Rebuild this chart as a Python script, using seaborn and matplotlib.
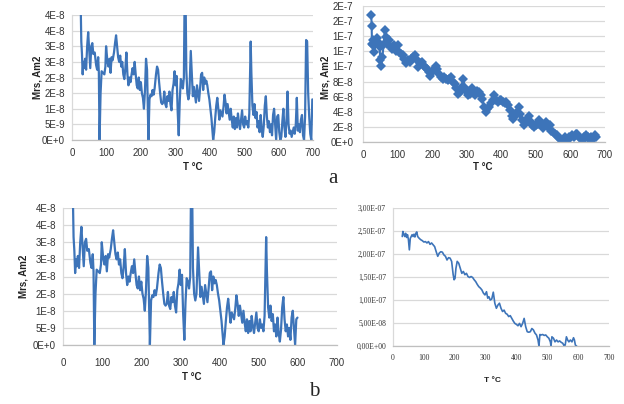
import matplotlib
matplotlib.use("Agg")
import matplotlib.pyplot as plt
import seaborn as sns
import pandas as pd

sns.set_theme(style="white")
plt.rcParams["font.family"] = ["Liberation Sans", "DejaVu Sans"]

BLUE = "#3D74B9"
GRID = "#D9D9D9"
W, H = 624, 404

# --- panel a (left) and b (left): Mrs, units of 5E-9 Am2 ---
t_noisy = [23, 25, 27, 29, 31, 33, 35, 38, 41, 44, 47, 50, 53, 56, 59, 62, 66, 70, 73, 76,
           78, 80, 83, 86, 90, 94, 97, 99, 103, 106, 109, 112, 115, 118, 122, 125, 128, 131, 134, 137,
           140, 143, 146, 149, 152, 155, 158, 161, 164, 167, 170, 173, 176, 179, 182, 185, 188, 191, 194, 197,
           200, 203, 206, 209, 212, 215, 218, 222, 225, 228, 231, 234, 237, 240, 244, 247, 250, 253, 256, 259,
           262, 265, 268, 271, 274, 277, 280, 283, 286, 289, 292, 295, 298, 301, 304, 307, 310, 313, 316, 319,
           322, 325, 327, 330, 332, 335, 338, 341, 345, 348, 351, 354, 357, 360, 363, 366, 369, 372, 375, 378,
           381, 384, 387, 390, 393, 396, 399, 402, 405, 408, 410, 413, 416, 419, 422, 425, 428, 431, 434, 437,
           440, 443, 446, 449, 452, 455, 458, 461, 464, 467, 470, 473, 476, 479, 482, 485, 488, 491, 494, 497,
           500, 503, 506, 509, 512, 515, 517, 519, 521, 524, 527, 530, 533, 536, 539, 542, 545, 548, 551, 554,
           557, 560, 563, 566, 569, 572, 575, 578, 581, 584, 587, 590, 593, 596, 599, 602, 605, 608, 611, 614,
           617, 620, 623, 626, 629, 632, 635, 638, 641, 644, 647, 650, 653, 656, 659, 662, 665, 668, 671, 674,
           677, 680, 683, 686, 689, 692, 695, 698]
mrs_noisy = [9, 9, 6.3, 5.5, 4.2, 5.0, 4.6, 5.2, 4.5, 6.0, 6.9, 5.8, 4.6, 6.0, 6.2, 5.5, 5.6, 4.8, 4.5, 5.3,
             4.3, 0, 3.0, 4.4, 4.3, 4.2, 4.7, 6.0, 5.0, 4.7, 5.2, 4.3, 5.3, 5.1, 5.6, 6.2, 6.7, 6.0, 5.3, 5.0,
             5.4, 4.7, 5.0, 4.2, 3.9, 4.6, 5.6, 4.2, 3.5, 4.0, 3.7, 4.2, 4.6, 4.2, 5.0, 4.2, 3.5, 3.3, 4.0, 3.2,
             3.7, 3.0, 2.7, 2.0, 3.2, 5.2, 4.5, 0, 2.6, 2.9, 2.8, 3.2, 2.9, 3.3, 4.2, 4.7, 4.5, 3.7, 3.0, 2.4,
             2.3, 2.4, 3.1, 2.3, 2.1, 2.8, 2.5, 3.1, 2.3, 1.9, 3.2, 3.6, 4.4, 3.5, 4.1, 1.8, 0.3, 2.5, 3.9, 3.7,
             3.3, 4.0, 9, 9, 4.5, 3.0, 2.6, 3.0, 5.7, 4.2, 2.8, 3.4, 2.9, 2.4, 3.5, 3.0, 2.5, 3.3, 4.2, 4.3,
             3.2, 4.0, 3.6, 3.8, 3.5, 3.0, 2.6, 2.0, 1.4, 0.6, 0, 0.5, 1.4, 2.2, 2.7, 2.0, 1.3, 1.9, 1.7, 1.5,
             2.1, 2.9, 2.4, 1.7, 2.3, 1.8, 1.3, 2.0, 1.3, 0.8, 1.5, 0.7, 1.4, 0.8, 1.7, 1.1, 0.7, 1.3, 1.9, 1.0,
             0.8, 1.5, 1.0, 1.2, 0.8, 1.7, 4.0, 6.3, 4.3, 2.2, 1.6, 2.3, 1.4, 1.8, 0.8, 1.2, 0.5, 1.6, 0.7, 0.2,
             0.9, 2.2, 2.8, 1.5, 0.8, 1.2, 0.5, 1.0, 0.3, 1.6, 2.0, 1.0, 0, 1.5, 1.6, 0.5, 0, 0.2, 1.2, 2.0,
             0.8, 0.2, 1.2, 3.1, 1.0, 0.4, 0.6, 0.2, 0.5, 0.8, 0.4, 1.0, 2.7, 0.6, 1.0, 0.5, 1.3, 1.6, 0.3, 0,
             1.5, 6.4, 6.3, 3.0, 1.5, 0.4, 0, 2.6]

# --- panel a (right): Mrs, units of 1E-7 Am2 ---
t_diam = [24, 25, 26, 28, 30, 33, 36, 40, 44, 48, 50, 53, 56, 60, 63, 66, 70, 75, 80, 85,
          90, 95, 100, 105, 110, 115, 120, 125, 130, 135, 140, 145, 150, 155, 160, 165, 170, 175, 180, 185,
          190, 195, 200, 205, 210, 215, 220, 225, 230, 235, 240, 245, 250, 255, 260, 265, 270, 275, 280, 285,
          290, 295, 300, 305, 310, 315, 320, 325, 330, 335, 340, 345, 350, 355, 360, 365, 370, 375, 380, 385,
          390, 395, 400, 405, 410, 415, 420, 425, 430, 435, 440, 445, 450, 455, 460, 465, 470, 475, 480, 485,
          490, 495, 500, 505, 510, 515, 520, 525, 530, 535, 540, 545, 550, 555, 560, 565, 570, 575, 580, 585,
          590, 595, 600, 605, 610, 615, 620, 625, 630, 635, 640, 645, 650, 655, 660, 665, 670, 675]
mrs_diam = [1.68, 1.54, 1.30, 1.35, 1.28, 1.19, 1.30, 1.37, 1.32, 1.26, 1.08, 1.01, 1.12, 1.30, 1.48, 1.39, 1.30, 1.35, 1.26, 1.23,
            1.28, 1.21, 1.28, 1.19, 1.17, 1.15, 1.10, 1.04, 1.08, 1.06, 1.10, 1.12, 1.15, 1.08, 0.99, 1.04, 1.06, 1.01, 0.99, 0.97,
            0.93, 0.88, 0.93, 0.97, 1.01, 0.97, 0.90, 0.86, 0.84, 0.86, 0.84, 0.82, 0.84, 0.86, 0.79, 0.77, 0.71, 0.64, 0.66, 0.73,
            0.84, 0.71, 0.66, 0.62, 0.64, 0.71, 0.66, 0.62, 0.68, 0.66, 0.62, 0.57, 0.46, 0.40, 0.44, 0.46, 0.51, 0.55, 0.62, 0.55,
            0.53, 0.55, 0.55, 0.53, 0.51, 0.53, 0.49, 0.42, 0.35, 0.31, 0.35, 0.40, 0.46, 0.37, 0.29, 0.22, 0.26, 0.31, 0.35, 0.26,
            0.22, 0.20, 0.22, 0.24, 0.29, 0.22, 0.18, 0.24, 0.26, 0.20, 0.22, 0.15, 0.13, 0.11, 0.09, 0.07, 0.04, 0.02, 0.03, 0.06,
            0.04, 0.07, 0.05, 0.09, 0.07, 0.10, 0.11, 0.07, 0.04, 0.03, 0.06, 0.09, 0.07, 0.04, 0.07, 0.04, 0.09, 0.07]

# --- panel b (right): Mrs, units of 1E-7 Am2 ---
t_smooth = [30, 32, 35, 38, 41, 44, 47, 50, 53, 56, 59, 62, 65, 68, 71, 74, 77, 80, 85, 90,
            95, 100, 105, 110, 115, 120, 125, 130, 135, 140, 145, 150, 155, 160, 165, 170, 175, 180, 185, 190,
            195, 198, 201, 204, 208, 213, 218, 223, 228, 233, 238, 243, 248, 253, 258, 263, 268, 273, 278, 283,
            288, 293, 298, 303, 307, 311, 315, 320, 325, 330, 335, 340, 345, 350, 355, 360, 365, 370, 375, 380,
            385, 390, 395, 400, 405, 410, 415, 420, 425, 430, 435, 440, 445, 450, 455, 460, 465, 470, 473, 476,
            480, 485, 490, 495, 500, 505, 510, 512, 515, 520, 525, 530, 535, 540, 545, 550, 555, 558, 562, 566,
            570, 575, 580, 585, 588, 591, 595]
mrs_smooth = [2.38, 2.49, 2.43, 2.38, 2.45, 2.36, 2.42, 2.31, 2.09, 2.34, 2.38, 2.42, 2.38, 2.43, 2.37, 2.45, 2.48, 2.38, 2.34, 2.31,
              2.29, 2.26, 2.27, 2.24, 2.27, 2.21, 2.24, 2.20, 2.16, 2.05, 1.95, 2.02, 2.05, 2.04, 1.98, 1.95, 1.87, 1.92, 1.91, 1.84,
              1.55, 1.44, 1.47, 1.69, 1.84, 1.80, 1.69, 1.58, 1.62, 1.55, 1.58, 1.51, 1.49, 1.51, 1.49, 1.44, 1.40, 1.34, 1.29, 1.26,
              1.22, 1.15, 1.11, 1.18, 1.04, 1.07, 1.00, 1.02, 1.17, 0.93, 0.82, 0.89, 0.93, 0.82, 0.75, 0.78, 0.71, 0.69, 0.64, 0.66,
              0.60, 0.54, 0.49, 0.47, 0.44, 0.49, 0.42, 0.49, 0.60, 0.42, 0.31, 0.30, 0.31, 0.38, 0.35, 0.28, 0.24, 0.13, 0.0, 0.25,
              0.24, 0.25, 0.23, 0.24, 0.20, 0.17, 0.09, 0.0, 0.20, 0.17, 0.09, 0.13, 0.09, 0.11, 0.08, 0.06, 0.0, 0.02, 0.20, 0.13,
              0.09, 0.13, 0.09, 0.18, 0.13, 0.02, 0.0]

ticks_a1 = ["0E+0", "5E-9", "1E-8", "2E-8", "2E-8", "3E-8", "3E-8", "4E-8", "4E-8"]
ticks_a2 = ["0E+0", "2E-8", "4E-8", "6E-8", "8E-8", "1E-7", "1E-7", "1E-7", "2E-7", "2E-7"]
ticks_b2 = ["0,00E+00", "5,00E-08", "1,00E-07", "1,50E-07", "2,00E-07", "2,50E-07", "3,00E-07"]
x_ticks = [0, 100, 200, 300, 400, 500, 600, 700]

noisy = pd.DataFrame({"T": t_noisy, "Mrs": [v * 5e-9 for v in mrs_noisy]})
noisy_b = noisy[noisy["T"] <= 600]
diam = pd.DataFrame({"T": t_diam, "Mrs": [v * 1e-7 for v in mrs_diam]})
smooth = pd.DataFrame({"T": t_smooth, "Mrs": [v * 1e-7 for v in mrs_smooth]})

fig = plt.figure(figsize=(W / 100, H / 100), dpi=100)


def px_axes(left, top, right, bottom):
    return fig.add_axes([left / W, 1 - bottom / H, (right - left) / W, (bottom - top) / H])


def ftext(x, y, s, **kw):
    fig.text(x / W, 1 - y / H, s, ha="center", va="center", **kw)


def style(ax, ylim, yticks, ylabels, fsize=7, family=None, xpad=6, ypad=5):
    ax.set_xlim(0, 700)
    ax.set_ylim(*ylim)
    ax.set_xticks(x_ticks)
    ax.set_yticks(yticks)
    ax.set_yticklabels(ylabels)
    ax.grid(axis="y", color=GRID, lw=0.9)
    ax.grid(axis="x", visible=False)
    ax.set_axisbelow(True)
    for s in ["top", "right"]:
        ax.spines[s].set_visible(False)
    ax.spines["left"].set_color(GRID)
    ax.spines["bottom"].set_color("#BFBFBF")
    ax.spines["left"].set_linewidth(0.9)
    ax.spines["bottom"].set_linewidth(0.9)
    ax.tick_params(axis="y", length=0, pad=ypad, labelsize=fsize, labelcolor="#333333")
    ax.tick_params(axis="x", length=0, pad=xpad, labelsize=fsize, labelcolor="#333333")
    if family:
        for lab in ax.get_xticklabels() + ax.get_yticklabels():
            lab.set_family(family)
    ax.set_xlabel("")
    ax.set_ylabel("")


# a, left
ax1 = px_axes(72, 15, 313, 140)
sns.lineplot(data=noisy, x="T", y="Mrs", ax=ax1, color=BLUE, lw=1.6, estimator=None, sort=False)
style(ax1, (0, 4e-8), [i * 5e-9 for i in range(9)], ticks_a1)
ftext(38, 77, "Mrs, Am2", rotation=90, fontsize=7, fontweight="bold", color="#222222")
ftext(193, 167, "T \u00b0C", fontsize=7, fontweight="bold", color="#222222")

# a, right
ax2 = px_axes(363, 6, 605, 142)
sns.lineplot(data=diam, x="T", y="Mrs", ax=ax2, color=BLUE, lw=1.5, estimator=None, sort=False,
             marker="D", markersize=4.6, markeredgewidth=0)
style(ax2, (0, 1.8e-7), [i * 2e-8 for i in range(10)], ticks_a2, ypad=7)
ftext(325, 77, "Mrs, Am2", rotation=90, fontsize=7, fontweight="bold", color="#222222")
ftext(483, 167, "T \u00b0C", fontsize=7, fontweight="bold", color="#222222")

# b, left
ax3 = px_axes(63, 208, 337, 345)
sns.lineplot(data=noisy_b, x="T", y="Mrs", ax=ax3, color=BLUE, lw=1.6, estimator=None, sort=False)
style(ax3, (0, 4e-8), [i * 5e-9 for i in range(9)], ticks_a1, xpad=9)
ftext(24, 276, "Mrs, Am2", rotation=90, fontsize=7, fontweight="bold", color="#222222")
ftext(192, 377, "T \u00b0C", fontsize=7, fontweight="bold", color="#222222")

# b, right
ax4 = px_axes(393, 208, 609, 346)
sns.lineplot(data=smooth, x="T", y="Mrs", ax=ax4, color=BLUE, lw=1.2, estimator=None, sort=False)
style(ax4, (0, 3e-7), [i * 5e-8 for i in range(7)], ticks_b2, fsize=5.5, family="Liberation Serif",
      xpad=3, ypad=5)
ax4.tick_params(axis="x", length=3, color="#BFBFBF", direction="out")
ftext(492, 380, "T \u00b0C", fontsize=6, fontweight="bold", color="#222222")

ftext(333, 179, "a", fontsize=15, family="Liberation Serif")
ftext(314, 392, "b", fontsize=15, family="Liberation Serif")

fig.savefig("out.png", dpi=100)
